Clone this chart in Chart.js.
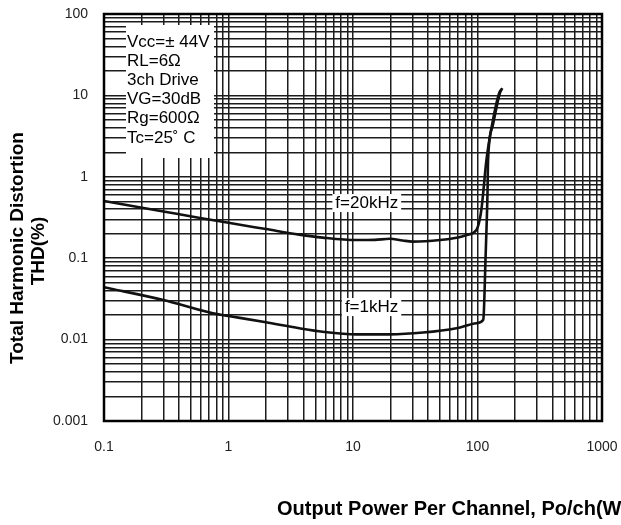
<!DOCTYPE html>
<html>
<head>
<meta charset="utf-8">
<script src="https://cdn.jsdelivr.net/npm/chart.js@4/dist/chart.umd.min.js"></script>
<style>
  html, body { margin: 0; padding: 0; background: #fff; }
  #wrap { width: 621px; height: 525px; }
</style>
</head>
<body>
<div id="wrap"><canvas id="c" width="621" height="525"></canvas></div>
<script>
// ---- data ----
const xDecades = [0.1, 1, 10, 100, 1000];
const yDecades = [0.001, 0.01, 0.1, 1, 10, 100];
const xTickLabels = ["0.1", "1", "10", "100", "1000"];
const yTickLabels = ["0.001", "0.01", "0.1", "1", "10", "100"];

const f20kX = [0.1, 0.3, 0.59, 1, 2, 3.7, 5.7, 10.6, 15, 19.7, 25, 30, 50, 68, 82, 98, 104, 108, 111, 118, 130, 149, 156];
const f20kY = [0.505, 0.375, 0.312, 0.272, 0.228, 0.195, 0.179, 0.167, 0.168, 0.173, 0.165, 0.160, 0.167, 0.178, 0.193, 0.222, 0.294, 0.42, 0.627, 1.61, 4.12, 10.6, 11.9];

const f1kX = [0.1, 0.3, 0.75, 1, 2, 3.7, 5.7, 10.6, 19.7, 36.6, 67.8, 98, 111, 112.4, 115.9, 120.3, 121.6, 131.9, 151, 158];
const f1kY = [0.044, 0.0306, 0.021, 0.0195, 0.0163, 0.0138, 0.0125, 0.0116, 0.0116, 0.0122, 0.0138, 0.0159, 0.0174, 0.0212, 0.095, 0.627, 1.61, 4.12, 10.6, 12.3];

const conditionLines = ["Vcc=\u00B1 44V", "RL=6\u03A9", "3ch Drive", "VG=30dB", "Rg=600\u03A9", "Tc=25\u02DA C"];
const curveLabels = [
  { text: "f=20kHz", x: 12.9, y: 0.476 },
  { text: "f=1kHz", x: 14.1, y: 0.0251 }
];
const yTitleLines = ["Total Harmonic Distortion", "THD(%)"];
const xTitle = "Output Power Per Channel, Po/ch(W";

// minor ticks 1..9 per decade (grid lines)
function logTicks(decades) {
  const out = [];
  for (let i = 0; i < decades.length - 1; i++) {
    for (let k = 1; k <= 9; k++) out.push(+(decades[i] * k).toPrecision(6));
  }
  out.push(decades[decades.length - 1]);
  return out;
}

const FONT = "'Liberation Sans', Arial, sans-serif";

const overlayPlugin = {
  id: 'overlay',
  afterDatasetsDraw(chart) {
    const ctx = chart.ctx;
    const ca = chart.chartArea;
    const xs = chart.scales.x, ys = chart.scales.y;
    ctx.save();
    // condition box
    const bx = ca.left + 22, by = ca.top + 11, bw = 88, bh = 133;
    ctx.fillStyle = '#fff';
    ctx.fillRect(bx, by, bw, bh);
    ctx.fillStyle = '#000';
    ctx.font = '17px ' + FONT;
    ctx.textAlign = 'left';
    ctx.textBaseline = 'middle';
    conditionLines.forEach((t, i) => {
      ctx.fillText(t, ca.left + 23, ca.top + 28 + i * 19.2);
    });
    // curve labels
    ctx.font = '17px ' + FONT;
    ctx.textAlign = 'center';
    curveLabels.forEach(l => {
      const px = xs.getPixelForValue(l.x), py = ys.getPixelForValue(l.y);
      const w = ctx.measureText(l.text).width + 6;
      ctx.fillStyle = '#fff';
      ctx.fillRect(px - w / 2, py - 9, w, 18);
      ctx.fillStyle = '#000';
      ctx.fillText(l.text, px, py);
    });
    ctx.restore();
  },
  afterDraw(chart) {
    const ctx = chart.ctx;
    const ca = chart.chartArea;
    ctx.save();
    ctx.strokeStyle = '#000';
    ctx.lineWidth = 2.5;
    ctx.strokeRect(ca.left, ca.top, ca.right - ca.left, ca.bottom - ca.top);
    // axis titles
    ctx.fillStyle = '#000';
    ctx.font = 'bold 19px ' + FONT;
    ctx.textAlign = 'center';
    ctx.textBaseline = 'middle';
    ctx.save();
    ctx.translate(18, 248);
    ctx.rotate(-Math.PI / 2);
    ctx.fillText(yTitleLines[0], 0, 0);
    ctx.restore();
    ctx.save();
    ctx.translate(39, 251);
    ctx.rotate(-Math.PI / 2);
    ctx.fillText(yTitleLines[1], 0, 0);
    ctx.restore();
    ctx.font = 'bold 20px ' + FONT;
    ctx.textAlign = 'left';
    ctx.fillText(xTitle, 277, 509);
    ctx.restore();
  }
};

const gridCfg = { color: '#1c1c1c', lineWidth: 1.5, drawTicks: false };

new Chart(document.getElementById('c'), {
  type: 'line',
  data: {
    datasets: [
      {
        label: 'f=20kHz',
        data: f20kX.map((x, i) => ({ x, y: f20kY[i] })),
        borderColor: '#111', borderWidth: 2.6, pointRadius: 0,
        cubicInterpolationMode: 'monotone', fill: false
      },
      {
        label: 'f=1kHz',
        data: f1kX.map((x, i) => ({ x, y: f1kY[i] })),
        borderColor: '#111', borderWidth: 2.6, pointRadius: 0,
        cubicInterpolationMode: 'monotone', fill: false
      }
    ]
  },
  options: {
    responsive: false,
    animation: false,
    layout: { padding: { left: 0, top: 14, right: 19, bottom: 0 } },
    plugins: { legend: { display: false }, tooltip: { enabled: false }, title: { display: false } },
    scales: {
      x: {
        type: 'logarithmic', min: 0.1, max: 1000, position: 'bottom',
        grid: gridCfg,
        border: { display: false },
        afterBuildTicks: s => { s.ticks = logTicks(xDecades).map(v => ({ value: v })); },
        afterFit: s => { s.height = 104; s.paddingLeft = 0; s.paddingRight = 0; },
        ticks: {
          autoSkip: false, maxRotation: 0, padding: 18, color: '#222',
          font: { family: FONT, size: 14 },
          callback: v => { const i = xDecades.findIndex(d => Math.abs(d - v) / d < 1e-6); return i >= 0 ? xTickLabels[i] : ''; }
        }
      },
      y: {
        type: 'logarithmic', min: 0.001, max: 100,
        grid: gridCfg,
        border: { display: false },
        afterBuildTicks: s => { s.ticks = logTicks(yDecades).map(v => ({ value: v })); },
        afterFit: s => { s.width = 104; s.paddingTop = 0; s.paddingBottom = 0; },
        ticks: {
          autoSkip: false, padding: 16, color: '#222',
          font: { family: FONT, size: 14 },
          callback: v => { const i = yDecades.findIndex(d => Math.abs(d - v) / d < 1e-6); return i >= 0 ? yTickLabels[i] : ''; }
        }
      }
    }
  },
  plugins: [overlayPlugin]
});
</script>
</body>
</html>
